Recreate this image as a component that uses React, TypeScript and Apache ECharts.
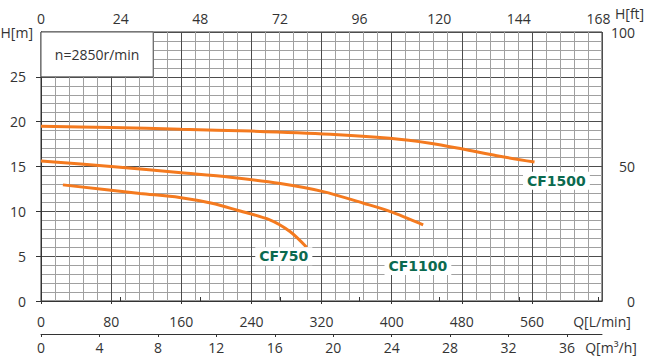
import React, { useEffect, useRef } from 'react';
import * as echarts from 'echarts';

// Flow axis tick labels
const flowTicksLmin = [0, 80, 160, 240, 320, 400, 480, 560];
const flowTicksGpm = [0, 24, 48, 72, 96, 120, 144, 168];
const flowTicksM3h = [0, 4, 8, 12, 16, 20, 24, 28, 32, 36];
// Head axis tick labels
const headTicksM = [0, 5, 10, 15, 20, 25];
const headTicksFt = [0, 50, 100];

// Axis extents
const flowMaxLmin = 640;
const headMaxM = 30;
const headMaxFt = 100;
const lminPerGpm = 3.785411784;
const flowMaxM3h = 38.4;

// Pump curves [Q L/min, H m]
const cf1500: [number, number][] = [
  [0, 19.5], [80, 19.35], [160, 19.15], [240, 18.95], [330, 18.6],
  [398, 18.15], [444, 17.6], [481, 16.95], [520, 16.2], [563, 15.5],
];
const cf1100: [number, number][] = [
  [0, 15.6], [80, 15.0], [160, 14.3], [216, 13.8], [273, 13.1],
  [322, 12.2], [368, 10.9], [398, 10.0], [436, 8.5],
];
const cf750: [number, number][] = [
  [25, 12.95], [113, 12.0], [158, 11.55], [195, 10.9], [223, 10.15],
  [261, 9.05], [284, 7.75], [303, 6.0],
];

const seriesNames = ['CF750', 'CF1100', 'CF1500'];
const labelAt: [number, number][] = [[277, 5.0], [430, 3.9], [588, 13.4]];
const speedNote = 'n=2850r/min';
const noteBox: [number, number][] = [[0, 25], [128, 30]];
const axisTitles = { flowLmin: 'Q[L/min]', flowM3h: 'Q[m³/h]', headM: 'H[m]', headFt: 'H[ft]' };

const FONT = '"Open Sans", sans-serif';
const TXT = '#333333';
const ORANGE = '#f47a1f';
const GREEN = '#0b6a4f';

export default function App() {
  const ref = useRef<HTMLDivElement>(null);
  useEffect(() => {
    document.body.style.margin = '0';
    const chart = echarts.init(ref.current!, undefined, { renderer: 'svg' });
    const lbl = { color: TXT, fontSize: 14, fontFamily: FONT };
    const axLine = { show: true, lineStyle: { color: '#333', width: 1 } };
    const curves = [cf750, cf1100, cf1500];

    const series: any[] = curves.map((d, i) => ({
      type: 'line',
      name: seriesNames[i],
      xAxisIndex: 1,
      yAxisIndex: 1,
      data: d,
      smooth: 0.3,
      showSymbol: false,
      symbol: 'none',
      lineStyle: { color: ORANGE, width: 3 },
      z: 3,
      markPoint: {
        silent: true,
        symbol: 'circle',
        symbolSize: 1,
        itemStyle: { color: 'rgba(0,0,0,0)' },
        label: {
          show: true,
          position: 'inside',
          formatter: seriesNames[i],
          color: GREEN,
          fontWeight: 'bold',
          fontSize: 14,
          fontFamily: '"DejaVu Sans", sans-serif',
          backgroundColor: '#ffffff',
          padding: [2, 4],
        },
        data: [{ coord: labelAt[i] }],
      },
      ...(i === 2
        ? {
            markArea: {
              silent: true,
              itemStyle: { color: '#ffffff', opacity: 1, borderColor: '#555', borderWidth: 1 },
              label: { show: true, position: 'inside', formatter: speedNote, ...lbl },
              data: [[{ coord: noteBox[0] }, { coord: noteBox[1] }]],
            },
          }
        : {}),
    }));

    chart.setOption({
      animation: false,
      backgroundColor: '#ffffff',
      grid: {
        left: 41, top: 32, width: 561, height: 269,
        show: true, borderColor: '#333', borderWidth: 1,
        outerBoundsMode: 'none',
      },
      graphic: [
        {
          type: 'text',
          x: 615,
          y: 13,
          silent: true,
          style: {
            text: axisTitles.headFt,
            fill: TXT,
            fontSize: 14,
            fontFamily: FONT,
            verticalAlign: 'middle',
            align: 'left',
          },
        },
      ],
      xAxis: [
        {
          // grid lines
          type: 'value', min: 0, max: flowMaxLmin, interval: 80,
          axisLine: { show: false }, axisTick: { show: false }, axisLabel: { show: false },
          splitLine: { show: true, lineStyle: { color: '#4d4d4d', width: 1 } },
          minorTick: { show: false, splitNumber: 5 },
          minorSplitLine: { show: true, lineStyle: { color: '#a0a0a0', width: 1 } },
        },
        {
          type: 'value', position: 'bottom', offset: 8, min: 0, max: flowMaxLmin,
          axisLine: axLine,
          axisTick: { show: true, customValues: flowTicksLmin, length: 3, lineStyle: { color: '#333' } },
          axisLabel: {
            customValues: [...flowTicksLmin, flowMaxLmin], margin: 5, ...lbl,
            formatter: (v: number) => (v === flowMaxLmin ? axisTitles.flowLmin : String(v)),
          },
          splitLine: { show: false },
        },
        {
          type: 'value', position: 'top', offset: 4, min: 0, max: flowMaxLmin / lminPerGpm,
          axisLine: axLine,
          axisTick: { show: true, customValues: flowTicksGpm, length: 4, lineStyle: { color: '#333' } },
          axisLabel: { customValues: flowTicksGpm, margin: 3, ...lbl },
          splitLine: { show: false },
        },
        {
          type: 'value', position: 'bottom', offset: 33, min: 0, max: flowMaxM3h,
          axisLine: axLine,
          axisTick: { show: true, customValues: flowTicksM3h, length: 3, lineStyle: { color: '#333' } },
          axisLabel: {
            customValues: [...flowTicksM3h, flowMaxM3h], margin: 6, ...lbl,
            formatter: (v: number) => (v > 37 ? '{n|' + axisTitles.flowM3h + '}' : String(v)),
            rich: { n: { ...lbl, padding: [0, 0, 0, 18] } },
          },
          splitLine: { show: false },
        },
      ],
      yAxis: [
        {
          type: 'value', min: 0, max: headMaxM, interval: 5,
          axisLine: { show: false }, axisTick: { show: false }, axisLabel: { show: false },
          splitLine: { show: true, lineStyle: { color: '#4d4d4d', width: 1 } },
          minorTick: { show: false, splitNumber: 5 },
          minorSplitLine: { show: true, lineStyle: { color: '#a0a0a0', width: 1 } },
        },
        {
          type: 'value', position: 'left', offset: 5, min: 0, max: headMaxM,
          axisLine: axLine,
          axisTick: { show: true, customValues: headTicksM, length: 5, lineStyle: { color: '#333' } },
          axisLabel: {
            customValues: [...headTicksM, headMaxM], margin: 3, ...lbl,
            formatter: (v: number) => (v === headMaxM ? '{n|' + axisTitles.headM + '}' : '{v|' + v + '}'),
            rich: { n: { ...lbl }, v: { ...lbl, padding: [0, 7, 0, 0] } },
          },
          splitLine: { show: false },
        },
        {
          type: 'value', position: 'right', offset: 8, min: 0, max: headMaxFt,
          axisLine: axLine,
          axisTick: { show: true, customValues: headTicksFt, length: 3, lineStyle: { color: '#333' } },
          axisLabel: { customValues: headTicksFt, margin: 25, align: 'right', ...lbl },
          splitLine: { show: false },
        },
      ],
      series,
    });
    return () => chart.dispose();
  }, []);
  return <div ref={ref} style={{ width: 646, height: 357 }} />;
}
